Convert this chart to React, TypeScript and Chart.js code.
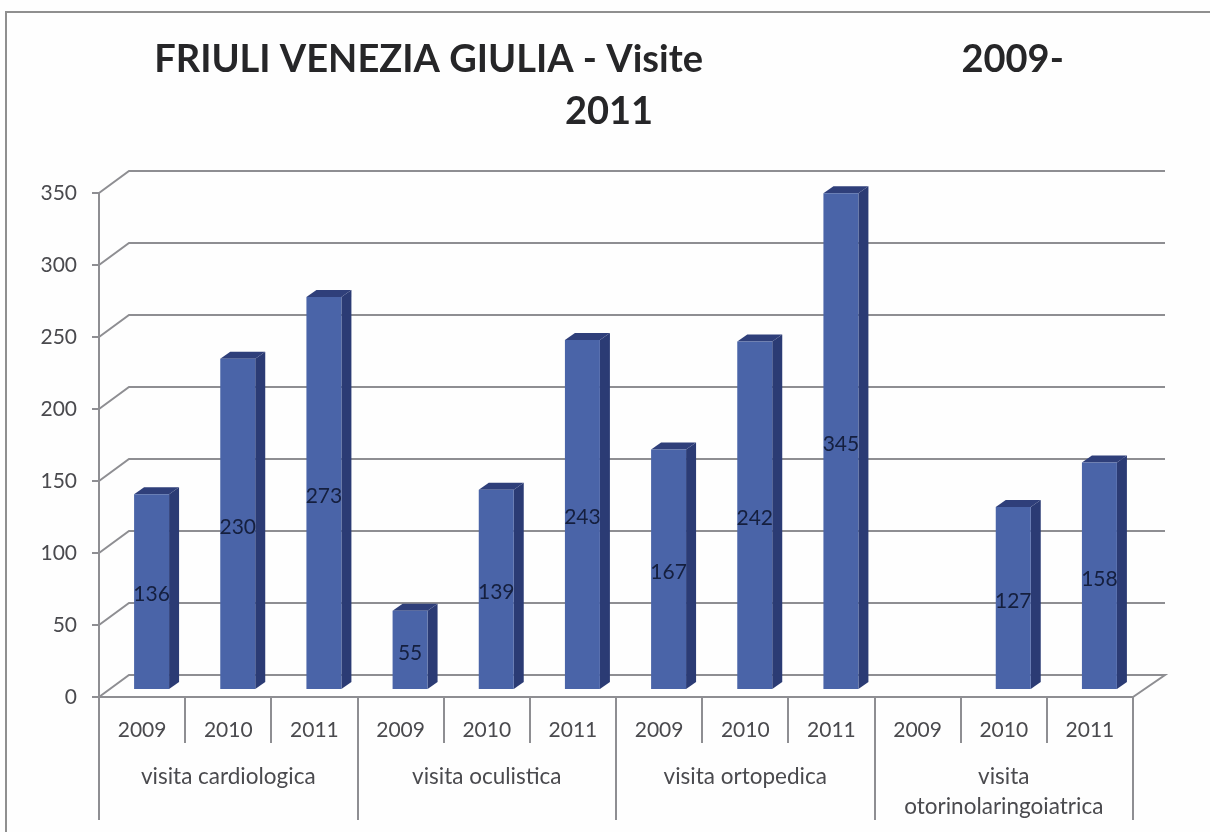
import React, { useEffect, useRef } from "react";
import { Chart, registerables } from "chart.js";

Chart.register(...registerables);

const years = ["2009", "2010", "2011", "2009", "2010", "2011", "2009", "2010", "2011", "2009", "2010", "2011"];
const groups: (string | string[])[] = [
  "visita cardiologica",
  "visita oculistica",
  "visita ortopedica",
  ["visita", "otorinolaringoiatrica"],
];
const visits = [136, 230, 273, 55, 139, 243, 167, 242, 345, null, 127, 158];
const titleLines = ["FRIULI VENEZIA GIULIA - Visite" + " ".repeat(28) + "2009-", "2011"];

const FONT = "Lato, Carlito, sans-serif";
const GRID = "#8e8e92";
const TEXT = "#4a4a4e";
const FRONT = "#4a64a8";
const SIDE = "#2b3b74";
const TOP = "#2f3f7a";
const BAR_DX = 9.5;
const BAR_DY = -7;
const SIDE_DX = 10;
const SIDE_DY = -7;
const WALL_DX = 30;
const WALL_DY = -22;

const frame3d = {
  id: "frame3d",
  beforeDraw(chart: any) {
    const { ctx, width, height } = chart;
    ctx.save();
    ctx.fillStyle = "#fefefe";
    ctx.fillRect(0, 0, width, height);
    ctx.strokeStyle = "#8f8f8f";
    ctx.lineWidth = 2;
    ctx.beginPath();
    ctx.moveTo(6, height);
    ctx.lineTo(6, 12);
    ctx.lineTo(width, 12);
    ctx.stroke();
    ctx.restore();
  },
  beforeDatasetsDraw(chart: any) {
    const { ctx, scales, chartArea } = chart;
    const y = scales.y;
    ctx.save();
    ctx.strokeStyle = GRID;
    ctx.lineWidth = 2;
    y.ticks.forEach((t: any) => {
      const py = y.getPixelForValue(t.value);
      ctx.beginPath();
      ctx.moveTo(chartArea.left, py);
      ctx.lineTo(chartArea.left + WALL_DX, py + WALL_DY);
      ctx.lineTo(chartArea.right + WALL_DX + 2, py + WALL_DY);
      if (t.value === 0) ctx.lineTo(chartArea.right, py);
      ctx.stroke();
    });
    ctx.restore();
    ctx.save();
    ctx.translate(BAR_DX, BAR_DY);
    const bars = chart.getDatasetMeta(0).data;
    bars.forEach((b: any, i: number) => {
      if (visits[i] == null) return;
      const p = b.getProps(["x", "y", "base", "width"], true);
      const l = p.x - p.width / 2;
      const r = p.x + p.width / 2;
      ctx.fillStyle = SIDE;
      ctx.beginPath();
      ctx.moveTo(r, p.y);
      ctx.lineTo(r + SIDE_DX, p.y + SIDE_DY);
      ctx.lineTo(r + SIDE_DX, p.base + SIDE_DY);
      ctx.lineTo(r, p.base);
      ctx.closePath();
      ctx.fill();
      ctx.fillStyle = TOP;
      ctx.beginPath();
      ctx.moveTo(l, p.y);
      ctx.lineTo(l + SIDE_DX, p.y + SIDE_DY);
      ctx.lineTo(r + SIDE_DX, p.y + SIDE_DY);
      ctx.lineTo(r, p.y);
      ctx.closePath();
      ctx.fill();
    });
  },
  afterDatasetsDraw(chart: any) {
    const { ctx } = chart;
    ctx.restore();
    ctx.save();
    ctx.fillStyle = "#151f3e";
    ctx.font = `21px ${FONT}`;
    ctx.textAlign = "center";
    ctx.textBaseline = "middle";
    chart.getDatasetMeta(0).data.forEach((b: any, i: number) => {
      const v = visits[i];
      if (v == null) return;
      const p = b.getProps(["x", "y", "base"], true);
      ctx.fillText(String(v), p.x + BAR_DX, (p.y + p.base) / 2 + BAR_DY + 3);
    });
    ctx.restore();
  },
};

export default function App() {
  const ref = useRef<HTMLCanvasElement>(null);
  useEffect(() => {
    const chart = new Chart(ref.current!, {
      type: "bar",
      data: {
        labels: years,
        datasets: [
          {
            label: "Visite",
            data: visits,
            backgroundColor: FRONT,
            categoryPercentage: 1,
            barPercentage: 0.406,
            xAxisID: "x",
            yAxisID: "y",
          },
        ],
      },
      options: {
        animation: false,
        responsive: false,
        layout: { padding: { left: 8, right: 0, top: 0, bottom: 0 } },
        plugins: {
          legend: { display: false },
          tooltip: { enabled: false },
          title: {
            display: true,
            text: titleLines,
            color: "#262628",
            font: { family: FONT, size: 38, weight: "bold", lineHeight: 52 / 38 },
            padding: { top: 34, bottom: 55 },
          },
        },
        scales: {
          x: {
            type: "category",
            position: "bottom",
            afterFit(s: any) {
              s.height = 46;
            },
            grid: { offset: true, drawOnChartArea: false, drawTicks: true, tickLength: 46, color: GRID, lineWidth: 2 },
            border: { display: true, color: GRID, width: 2 },
            ticks: {
              color: TEXT,
              font: { family: FONT, size: 21 },
              padding: -25,
              maxRotation: 0,
              minRotation: 0,
              autoSkip: false,
            },
          },
          x2: {
            type: "category",
            position: "bottom",
            labels: groups as any,
            offset: true,
            afterFit(s: any) {
              s.height = 89;
            },
            grid: { offset: true, drawOnChartArea: false, drawTicks: true, tickLength: 77, color: GRID, lineWidth: 2 },
            border: { display: false },
            ticks: {
              color: TEXT,
              font: { family: FONT, size: 22.5, lineHeight: 1.33 },
              padding: -58,
              maxRotation: 0,
              minRotation: 0,
              autoSkip: false,
            },
          },
          y: {
            min: 0,
            max: 350,
            position: "left",
            afterFit(s: any) {
              s.width = 91;
            },
            grid: { drawOnChartArea: false, drawTicks: true, tickLength: 7, color: GRID, lineWidth: 2 },
            border: { display: true, color: GRID, width: 2 },
            ticks: { stepSize: 50, color: TEXT, font: { family: FONT, size: 21 }, padding: 15 },
          },
          yRightGutter: {
            position: "right",
            afterFit(s: any) {
              s.width = 77;
            },
            grid: { display: false },
            border: { display: false },
            ticks: { display: false },
          },
        },
      },
      plugins: [frame3d],
    } as any);
    return () => chart.destroy();
  }, []);
  return (
    <div style={{ position: "absolute", left: 0, top: 0, width: 1210, height: 832 }}>
      <canvas ref={ref} width={1210} height={832} style={{ display: "block", filter: "blur(0.5px)" }} />
    </div>
  );
}
